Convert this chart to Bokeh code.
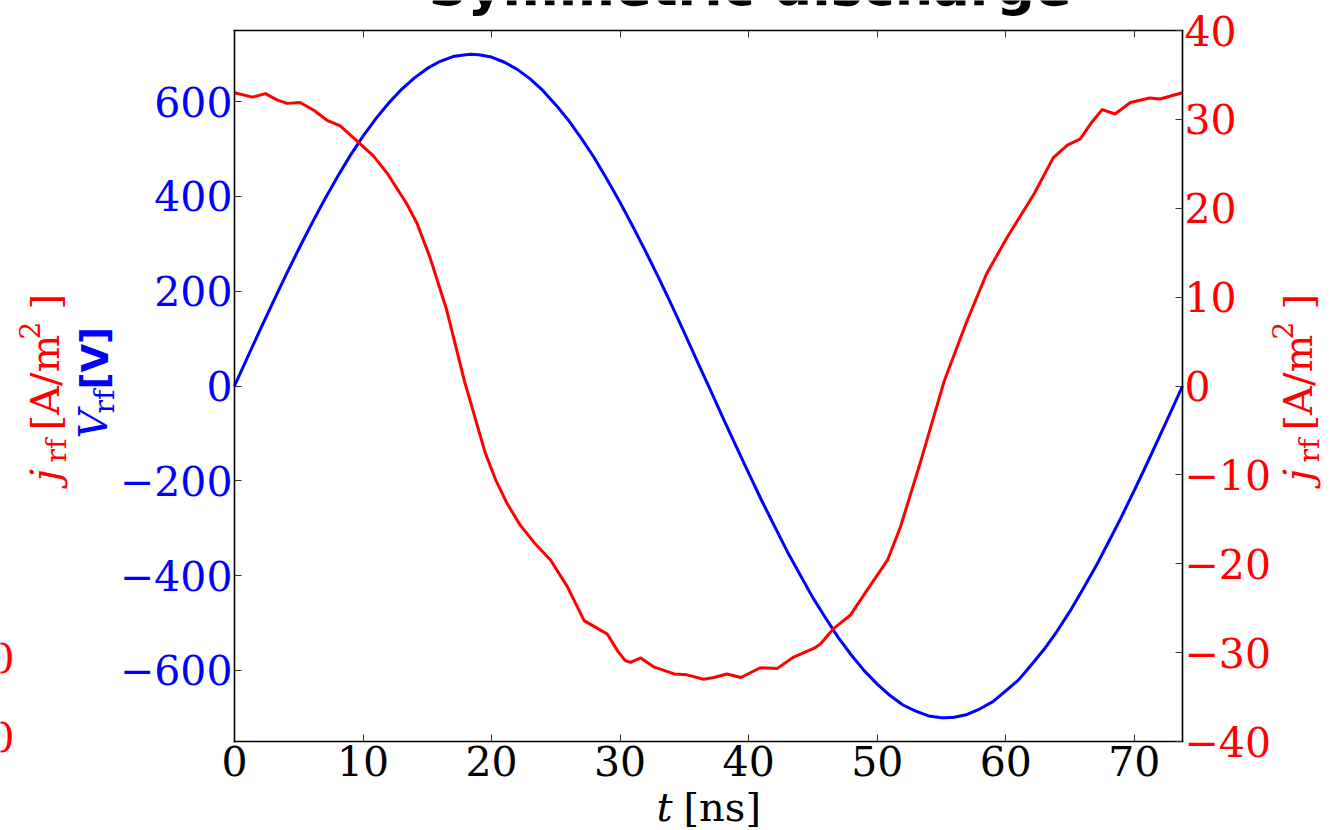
from bokeh.plotting import figure
from bokeh.models import Range1d, LinearAxis, FixedTicker, Label
from bokeh.embed import file_html
from bokeh.resources import INLINE

# ---- data ----
t_v = [0, 1, 2, 3, 4, 5, 6, 7, 8, 9, 10, 11, 12, 13, 14, 15, 16, 17, 18, 18.4, 19, 20,
       21, 22, 23, 24, 25, 26, 27, 28, 29, 30, 31, 32, 33, 34, 35, 36, 37, 38, 39, 40,
       41, 42, 43, 44, 45, 46, 47, 48, 49, 50, 51, 52, 53, 54, 55, 55.3, 56, 57, 58, 59,
       60, 61, 62, 63, 64, 65, 66, 67, 68, 69, 70, 71, 72, 73, 73.75]
v_rf = [0, 60, 119, 177, 234, 289, 342, 393, 441, 486, 527, 564, 597, 626, 650, 670, 685, 695, 699, 700, 699, 694,
        683, 668, 648, 623, 593, 560, 522, 481, 435, 387, 336, 283, 228, 171, 112, 52, -7, -67, -126, -184,
        -241, -295, -349, -398, -447, -490, -532, -568, -601, -629, -653, -673, -686, -696, -700, -700, -699, -693, -681, -666,
        -643, -620, -588, -555, -517, -475, -429, -381, -329, -276, -220, -163, -104, -45, 0]

t_j = [0, 1.4, 2.4, 3.3, 4.1, 5.1, 6.2, 7.2, 8.2, 9.5, 10.8, 11.9, 13.4, 14.2, 15.2, 16.5,
       17.9, 18.7, 19.5, 20.3, 21.2, 22.2, 23.3, 24.6, 25.9, 27.2, 28.5, 29.0, 29.8, 30.4, 30.8, 31.6, 32.6,
       34.2, 35.2, 36.5, 37.3, 38.3, 39.4, 40.9, 42.2, 43.5, 45.1, 45.6, 46.6, 47.9, 49.2,
       50.8, 51.8, 53.4, 55.2, 56.9, 58.5, 60.1, 62.2, 63.7, 64.8, 65.8, 66.6, 67.5, 68.5,
       69.7, 71.2, 72.0, 73.75]
j_rf = [33.0, 32.5, 32.9, 32.2, 31.8, 31.9, 31.0, 29.9, 29.3, 27.6, 25.9, 23.9, 20.5, 18.3, 14.5, 8.6,
        0.5, -3.5, -7.5, -10.5, -13.2, -15.6, -17.6, -19.6, -22.6, -26.4, -27.5, -27.9, -29.8, -30.9, -31.1, -30.6, -31.6,
        -32.4, -32.5, -33.0, -32.8, -32.4, -32.8, -31.7, -31.8, -30.5, -29.5, -29.0, -27.3, -25.8, -23.0,
        -19.6, -15.9, -8.4, 0.5, 7.0, 12.6, 16.7, 21.6, 25.7, 27.1, 27.8, 29.5, 31.1, 30.6,
        31.9, 32.4, 32.3, 33.0]

x_ticks = [0, 10, 20, 30, 40, 50, 60, 70]
v_ticks = [-600, -400, -200, 0, 200, 400, 600]
j_ticks = [-40, -30, -20, -10, 0, 10, 20, 30, 40]

title_text = "Symmetric discharge"

def lab(v):
    return str(v).replace("-", "\u2212")

BLUE = "#0000ff"
RED = "#ff0000"
SERIF = "DejaVu Serif"
TICK_FS = "41px"

# ---- layout: the axes box (in canvas pixels) ----
W, H = 1342, 830
BOX_L, BOX_R, BOX_T, BOX_B = 234, 1182, 30, 741
T0, T1 = 0, 73.75
V0, V1 = -750, 750
J0, J1 = -40, 40

xs = (T1 - T0) / (BOX_R - BOX_L)
vs = (V1 - V0) / (BOX_B - BOX_T)
js = (J1 - J0) / (BOX_B - BOX_T)
x_range = Range1d(T0 - BOX_L * xs, T0 - BOX_L * xs + W * xs)
y_range = Range1d(V1 + BOX_T * vs - H * vs, V1 + BOX_T * vs)
j_range = Range1d(J1 + BOX_T * js - H * js, J1 + BOX_T * js)

p = figure(width=W, height=H, x_range=x_range, y_range=y_range,
           output_backend="svg", toolbar_location=None,
           x_axis_location=None, y_axis_location=None,
           min_border=0, min_border_left=0, min_border_right=0,
           min_border_top=0, min_border_bottom=0)
p.extra_y_ranges = {"j": j_range}
p.grid.visible = False
p.outline_line_color = None
p.background_fill_color = "white"
p.border_fill_color = "white"


def style_axis(ax, color, ticks, labels=True):
    ax.ticker = FixedTicker(ticks=ticks)
    ax.axis_line_color = "black"
    ax.axis_line_width = 1.6
    ax.axis_line_cap = "square"
    ax.major_tick_in = 7
    ax.major_tick_out = 0
    ax.major_tick_line_color = "#333333"
    ax.major_tick_line_width = 1
    ax.minor_tick_line_color = None
    ax.major_label_text_font = SERIF
    ax.major_label_text_font_size = TICK_FS
    ax.major_label_text_color = color
    if labels:
        ax.major_label_overrides = {v: lab(v) for v in ticks}
    else:
        ax.major_label_overrides = {v: "" for v in ticks}


ax_b = LinearAxis(fixed_location=V0, bounds=(T0, T1))
style_axis(ax_b, "black", x_ticks)
ax_b.major_label_standoff = 4
p.add_layout(ax_b, "below")

ax_t = LinearAxis(fixed_location=V1, bounds=(T0, T1))
style_axis(ax_t, "black", x_ticks, labels=False)
p.add_layout(ax_t, "above")

ax_l = LinearAxis(fixed_location=T0, bounds=(V0, V1))
style_axis(ax_l, BLUE, v_ticks)
ax_l.major_label_standoff = 2
p.add_layout(ax_l, "left")

ax_r = LinearAxis(y_range_name="j", fixed_location=T1, bounds=(J0, J1))
style_axis(ax_r, RED, j_ticks)
ax_r.major_label_standoff = 2
p.add_layout(ax_r, "right")

p.line(t_v, v_rf, line_color=BLUE, line_width=3, line_join="round")
p.line(t_j, j_rf, line_color=RED, line_width=3, line_join="round", y_range_name="j")


# helpers to place text pieces by canvas pixel position (px, py = baseline start)
def px2x(px):
    return x_range.start + px * xs


def py2y(py):
    return y_range.end - py * vs


SHIFT = 0.38  # measured offset of the rendered baseline, in em


def add_text(px, py, text, color="black", size=40, font=SERIF, style="normal",
             angle=0, align="left"):
    if angle == 0:
        py = py - SHIFT * size
    else:
        px = px - SHIFT * size
    p.add_layout(Label(x=px2x(px), y=py2y(py), text=text, text_color=color,
                       text_font=font, text_font_size="%dpx" % size,
                       text_font_style=style, angle=angle, angle_units="deg",
                       text_align=align, text_baseline="alphabetic"))


# title (mostly above the visible area)
add_text(428, 7, title_text, font="DejaVu Sans", style="bold", size=54)

# x axis label: t [ns]
add_text(656, 822, "t", style="italic")
add_text(683, 822, "[ns]")

# rotated j_rf labels (left and right)
for bx in (60, 1313):
    add_text(bx, 481, "j", RED, style="italic", angle=90)
    add_text(bx + 7, 462, "rf", RED, size=28, angle=90)
    add_text(bx, 430, "[A/m", RED, angle=90)
    add_text(bx - 20, 339, "2", RED, size=28, angle=90)
    add_text(bx, 309, "]", RED, angle=90)

# rotated V_rf label
add_text(108, 438, "V", BLUE, style="italic", angle=90)
add_text(115, 413, "rf", BLUE, size=28, angle=90)
add_text(109, 389, "[V]", BLUE, font="DejaVu Sans", style="bold", size=37, angle=90)

# partially visible tick labels at the far left
add_text(14, 673, "0", RED, size=41, align="right")
add_text(14, 752, "0", RED, size=41, align="right")

open("out.html", "w").write(file_html(p, INLINE))
